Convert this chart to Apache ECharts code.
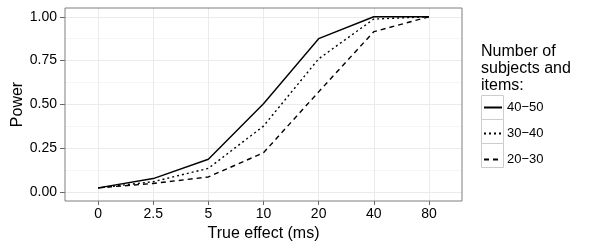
<!DOCTYPE html>
<html>
<head>
<meta charset="utf-8">
<script src="https://cdn.jsdelivr.net/npm/echarts@6/dist/echarts.min.js"></script>
<style>html,body{margin:0;padding:0;background:#fff}#c{width:600px;height:250px}</style>
</head>
<body>
<div id="c"></div>
<script>
const categories = ['0', '2.5', '5', '10', '20', '40', '80'];
const seriesNames = ['40\u221250', '30\u221240', '20\u221230'];
const power4050 = [0.025, 0.078, 0.188, 0.504, 0.875, 1.0, 1.0];
const power3040 = [0.025, 0.060, 0.136, 0.377, 0.760, 0.987, 1.0];
const power2030 = [0.025, 0.050, 0.087, 0.225, 0.572, 0.915, 1.0];
const yTicks = [0, 0.25, 0.5, 0.75, 1.0];
const yMinorTicks = [0.125, 0.375, 0.625, 0.875];

const idx = categories.map((c, i) => i);
const toPts = vals => vals.map((v, i) => [i, v]);
const font = 'Liberation Sans, Arial, sans-serif';

const chart = echarts.init(document.getElementById('c'), null, {renderer: 'canvas'});
const lineBase = {type: 'line', symbol: 'none', showSymbol: false, animation: false, z: 3};
chart.setOption({
  animation: false,
  textStyle: {fontFamily: font},
  title: {
    text: 'Number of\nsubjects and\nitems:',
    left: 481, top: 43, padding: 0,
    textStyle: {fontFamily: font, fontSize: 16, fontWeight: 'normal', color: '#000', lineHeight: 17}
  },
  graphic: [
    {type: 'rect', z: 0, shape: {x: 481.5, y: 95.5, width: 22, height: 24}, style: {fill: '#fff', stroke: '#cccccc', lineWidth: 1}},
    {type: 'rect', z: 0, shape: {x: 481.5, y: 119.5, width: 22, height: 24}, style: {fill: '#fff', stroke: '#cccccc', lineWidth: 1}},
    {type: 'rect', z: 0, shape: {x: 481.5, y: 143.5, width: 22, height: 24}, style: {fill: '#fff', stroke: '#cccccc', lineWidth: 1}}
  ],
  legend: {
    orient: 'vertical', left: 483, top: 101, padding: 0,
    itemWidth: 18, itemHeight: 12, itemGap: 13,
    data: seriesNames,
    itemStyle: {color: 'transparent', borderWidth: 0, opacity: 0},
    textStyle: {fontFamily: font, fontSize: 13, color: '#000'},
    z: 5
  },
  grid: {left: 65, right: 138, top: 8, bottom: 49, show: true, borderColor: '#7f7f7f', borderWidth: 1, backgroundColor: 'transparent', z: 4},
  xAxis: {
    type: 'value', min: -0.6, max: 6.6,
    name: 'True effect (ms)', nameLocation: 'middle', nameGap: 25,
    nameTextStyle: {fontFamily: font, fontSize: 16, color: '#000'},
    axisLine: {show: false, onZero: false},
    axisTick: {show: true, customValues: idx, length: 4, lineStyle: {color: '#666'}},
    axisLabel: {customValues: idx, margin: 6, fontSize: 14, color: '#000', fontFamily: font,
      formatter: v => categories[Math.round(v)]},
    splitLine: {show: true, lineStyle: {color: '#ebebeb', width: 1}}
  },
  yAxis: [{
    type: 'value', min: -0.05, max: 1.05,
    name: 'Power', nameLocation: 'middle', nameGap: 39, nameRotate: 90, nameMoveOverlap: false,
    nameTextStyle: {fontFamily: font, fontSize: 16, color: '#000'},
    axisLine: {show: false, onZero: false},
    axisTick: {show: true, customValues: yTicks, length: 5, lineStyle: {color: '#666'}},
    axisLabel: {customValues: yTicks, margin: 8, fontSize: 14, color: '#000', fontFamily: font,
      formatter: v => v.toFixed(2)},
    splitLine: {show: true, lineStyle: {color: '#ebebeb', width: 1}}
  }, {
    type: 'value', min: -0.05, max: 1.05, position: 'left',
    axisLine: {show: false, onZero: false}, axisLabel: {show: false},
    axisTick: {show: false, customValues: yMinorTicks},
    splitLine: {show: true, lineStyle: {color: '#f5f5f5', width: 1}}
  }],
  series: [
    Object.assign({}, lineBase, {name: seriesNames[0], data: toPts(power4050), lineStyle: {color: '#000', width: 1.4, type: 'solid'}, itemStyle: {color: '#000'}}),
    Object.assign({}, lineBase, {name: seriesNames[1], data: toPts(power3040), lineStyle: {color: '#000', width: 1.4, type: [2, 3]}, itemStyle: {color: '#000'}}),
    Object.assign({}, lineBase, {name: seriesNames[2], data: toPts(power2030), lineStyle: {color: '#000', width: 1.4, type: [5, 4]}, itemStyle: {color: '#000'}})
  ]
});
</script>
</body>
</html>
